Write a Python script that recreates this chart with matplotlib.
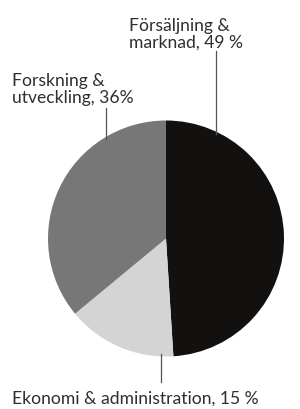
import matplotlib
matplotlib.use("Agg")
import matplotlib.pyplot as plt
import numpy as np

labels = ["Försäljning &\nmarknad, 49 %", "Ekonomi & administration, 15 %", "Forskning &\nutveckling, 36%"]
values = [49, 15, 36]
colors = ["#121110", "#d4d4d4", "#777777"]

W, H = 300, 409
fig = plt.figure(figsize=(W/100, H/100), dpi=100)
cx, cy, r = 166, 238.5, 118
ax = fig.add_axes([(cx - r)/W, (H - cy - r)/H, 2*r/W, 2*r/H])
ax.pie(values, colors=colors, startangle=90, counterclock=False, radius=1,
       wedgeprops=dict(linewidth=0))
ax.set_xlim(-1, 1); ax.set_ylim(-1, 1)
ax.set_aspect("equal")
ax.axis("off")

lc = "#555555"
def leader(x, y_end, top=True):
    edge = np.sqrt(1 - x**2)
    y0 = edge if top else -edge
    ax.plot([x, x], [y0 - (0.02 if top else -0.02), y_end], color=lc, lw=0.9, clip_on=False)

leader(0.42, 1.59, True)
leader(-0.508, 1.11, True)
leader(-0.042, -1.22, False)

font = "Lato"
fs = 12.6
def ftext(x, y_last_baseline, s):
    fig.text(x/W, 1 - y_last_baseline/H, s, fontsize=fs, family=font, color="#2e2e2e",
             ha="left", va="baseline", linespacing=1.08)

ftext(129, 48, labels[0])
ftext(12, 103, labels[2])
ftext(12, 404, labels[1])

fig.savefig("out.png", dpi=100)
